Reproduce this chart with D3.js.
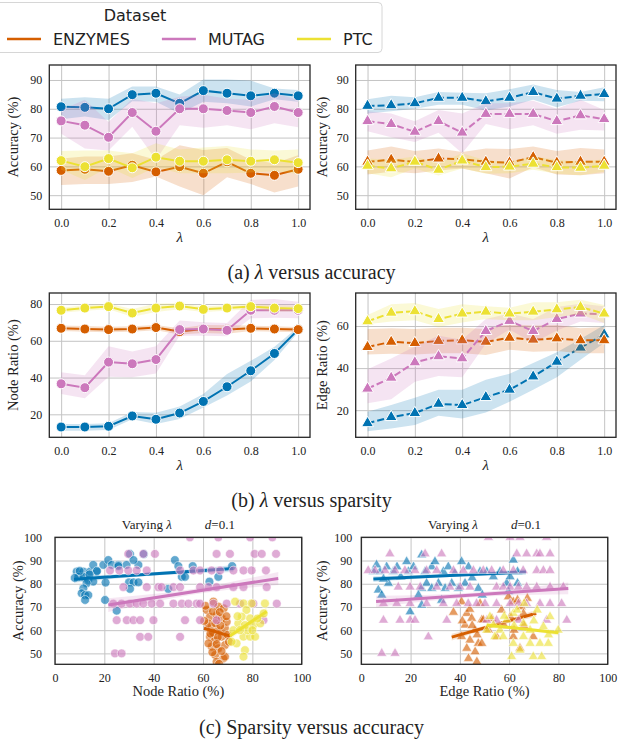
<!DOCTYPE html>
<html>
<head>
<meta charset="utf-8">
<script src="https://cdn.jsdelivr.net/npm/d3@7"></script>
<style>
  body { margin: 0; background: #fff; }
  svg { display: block; }
  .tick text { font-family: "Liberation Serif", "Times New Roman", serif; font-size: 12px; fill: #222; }
  .grid line { stroke: #c4c4c4; stroke-width: 1; }
  .frame { fill: none; stroke: #262626; stroke-width: 1.3; }
  .label { font-family: "Liberation Serif", "Times New Roman", serif; fill: #222; }
  .legend text { font-family: "DejaVu Sans", sans-serif; font-size: 16px; fill: #222; }
</style>
</head>
<body>
<div id="chart"></div>
<script>
// ---- data ----
const lambdas = [0, 0.1, 0.2, 0.3, 0.4, 0.5, 0.6, 0.7, 0.8, 0.9, 1.0];
const lambdaTicks = [0, 0.2, 0.4, 0.6, 0.8, 1.0];
const seriesKeys = ["s0", "ENZYMES", "MUTAG", "PTC"]; // s0 (blue) has no visible legend entry
const legendKeys = ["ENZYMES", "MUTAG", "PTC"];
const colors = { s0: "#0173b2", ENZYMES: "#d55e00", MUTAG: "#cc78bc", PTC: "#ece133" };

// (a) accuracy vs lambda, node sparsity (left)
const accNodeMean = {
  s0: [80.7, 80.5, 80.0, 84.9, 85.4, 81.9, 86.3, 85.4, 84.5, 85.4, 84.5],
  ENZYMES: [58.6, 59.0, 58.3, 60.4, 58.1, 59.9, 57.6, 61.6, 57.6, 56.9, 59.0],
  MUTAG: [75.8, 74.3, 70.1, 78.7, 72.2, 80.0, 80.0, 79.4, 78.7, 80.8, 78.7],
  PTC: [62.0, 59.9, 62.7, 59.5, 63.2, 61.8, 61.8, 62.3, 61.8, 62.3, 61.3],
};
const accNodeHigh = {
  s0: [83.5, 84.0, 83.5, 87.7, 87.7, 85.0, 90.2, 90.2, 89.8, 87.0, 86.5],
  ENZYMES: [62.7, 63.4, 63.4, 64.6, 62.3, 67.3, 65.7, 66.4, 62.3, 61.1, 63.9],
  MUTAG: [79.6, 83.1, 75.4, 83.5, 81.9, 84.2, 84.9, 83.5, 83.1, 85.4, 83.1],
  PTC: [65.3, 65.5, 65.5, 64.6, 68.0, 65.9, 66.6, 67.1, 65.9, 65.5, 65.9],
};
const accNodeLow = {
  s0: [76.4, 77.3, 76.1, 82.6, 82.4, 78.4, 82.4, 81.9, 80.8, 83.3, 82.4],
  ENZYMES: [53.5, 53.9, 53.9, 54.6, 56.5, 53.0, 50.0, 56.2, 53.9, 50.9, 53.0],
  MUTAG: [71.3, 66.2, 65.5, 73.8, 62.3, 74.3, 73.4, 74.3, 72.9, 75.0, 73.6],
  PTC: [58.8, 55.3, 59.7, 56.0, 59.7, 57.6, 57.6, 57.6, 57.9, 58.3, 57.4],
};

// (a) accuracy vs lambda, edge sparsity (right)
const accEdgeMean = {
  s0: [81.0, 81.2, 81.9, 83.8, 83.8, 82.6, 83.8, 85.8, 83.5, 84.5, 85.1],
  ENZYMES: [61.6, 62.3, 61.6, 62.7, 62.5, 61.6, 61.3, 63.2, 61.3, 61.6, 61.6],
  MUTAG: [75.7, 74.7, 72.0, 75.7, 71.7, 78.2, 78.2, 78.2, 75.7, 77.7, 76.4],
  PTC: [60.2, 59.3, 61.6, 58.8, 62.0, 59.7, 59.9, 60.9, 59.7, 59.5, 60.2],
};
const accEdgeHigh = {
  s0: [83.3, 84.5, 84.0, 85.8, 85.6, 85.4, 86.8, 88.4, 86.5, 85.8, 87.5],
  ENZYMES: [65.5, 66.9, 65.3, 66.2, 65.0, 66.2, 66.0, 66.9, 65.3, 66.4, 65.9],
  MUTAG: [79.1, 78.4, 75.7, 79.6, 78.4, 81.9, 81.9, 82.8, 80.0, 83.1, 79.6],
  PTC: [62.7, 62.3, 63.4, 61.1, 64.6, 62.0, 61.6, 63.4, 62.3, 61.6, 62.5],
};
const accEdgeLow = {
  s0: [78.4, 79.1, 80.0, 81.4, 81.4, 79.4, 80.8, 83.1, 80.5, 82.8, 82.6],
  ENZYMES: [57.2, 58.1, 57.6, 58.6, 59.3, 57.6, 55.8, 59.7, 57.2, 56.9, 57.6],
  MUTAG: [72.2, 70.1, 68.5, 71.7, 64.6, 74.7, 72.9, 74.3, 71.3, 72.7, 72.5],
  PTC: [57.6, 56.2, 59.3, 56.8, 59.3, 57.4, 57.6, 58.8, 57.4, 56.9, 58.1],
};

// (b) node ratio vs lambda
const nodeRatioMean = {
  s0: [13.1, 13.1, 13.5, 19.1, 17.3, 20.7, 27.0, 35.0, 43.7, 53.1, 66.1],
  ENZYMES: [66.8, 66.4, 66.1, 66.4, 67.2, 65.0, 66.4, 66.1, 66.8, 66.4, 66.1],
  MUTAG: [36.6, 34.5, 48.4, 47.5, 49.8, 66.1, 66.4, 65.7, 76.6, 76.6, 76.6],
  PTC: [76.6, 77.8, 78.6, 75.1, 77.8, 78.9, 77.1, 77.8, 78.6, 77.8, 77.5],
};
const nodeRatioHigh = {
  s0: [14.8, 14.8, 15.2, 21.3, 20.9, 24.2, 31.0, 41.9, 49.1, 56.7, 67.5],
  ENZYMES: [68.3, 68.0, 67.6, 67.9, 68.6, 66.8, 68.6, 68.5, 68.3, 67.9, 67.5],
  MUTAG: [42.9, 41.2, 57.0, 54.2, 57.0, 71.1, 70.1, 69.7, 82.3, 82.7, 81.3],
  PTC: [78.0, 79.3, 80.1, 77.3, 80.2, 80.6, 78.6, 79.3, 80.1, 79.5, 79.0],
};
const nodeRatioLow = {
  s0: [11.1, 11.1, 11.5, 17.3, 14.8, 17.4, 23.7, 30.3, 37.9, 49.5, 64.6],
  ENZYMES: [65.3, 64.9, 64.6, 64.9, 65.7, 63.4, 64.2, 63.8, 65.3, 64.9, 64.7],
  MUTAG: [31.0, 28.7, 40.4, 40.1, 42.2, 62.8, 62.8, 62.5, 72.2, 72.6, 72.2],
  PTC: [75.2, 76.3, 77.1, 73.1, 75.6, 77.2, 75.6, 76.3, 77.1, 76.1, 76.0],
};

// (b) edge ratio vs lambda
const edgeRatioMean = {
  s0: [13.8, 16.7, 18.6, 23.0, 22.4, 26.2, 29.7, 36.0, 43.0, 49.7, 56.0],
  ENZYMES: [50.0, 52.5, 51.9, 52.9, 53.2, 52.5, 54.4, 53.5, 54.1, 53.2, 53.2],
  MUTAG: [30.2, 35.4, 42.7, 45.6, 44.6, 57.6, 62.4, 57.6, 63.3, 65.9, 65.6],
  PTC: [62.2, 66.3, 67.0, 63.3, 65.9, 66.8, 65.9, 66.8, 67.9, 69.0, 65.9],
};
const edgeRatioHigh = {
  s0: [19.2, 22.4, 25.9, 29.7, 29.7, 34.4, 37.3, 42.4, 47.5, 53.8, 60.5],
  ENZYMES: [58.6, 58.9, 58.6, 59.2, 59.2, 58.6, 60.8, 60.2, 60.5, 58.9, 59.5],
  MUTAG: [39.5, 44.6, 50.3, 55.4, 53.5, 63.3, 65.9, 63.3, 69.0, 70.6, 69.4],
  PTC: [65.2, 70.3, 71.0, 68.1, 70.3, 69.4, 68.7, 71.3, 71.3, 72.5, 70.0],
};
const edgeRatioLow = {
  s0: [10.0, 11.3, 12.9, 17.3, 16.0, 18.9, 24.0, 29.7, 35.7, 44.0, 51.9],
  ENZYMES: [46.5, 46.8, 46.5, 47.1, 47.1, 46.2, 48.7, 47.8, 48.1, 47.1, 47.1],
  MUTAG: [23.3, 25.2, 33.5, 36.3, 35.7, 51.6, 58.3, 51.9, 57.9, 62.1, 61.4],
  PTC: [60.8, 62.1, 62.7, 59.5, 61.7, 63.3, 62.7, 62.7, 64.3, 65.6, 61.4],
};

// (c) scatter: [ratio %, accuracy %]
const nodeScatter = {
  s0: [[8.8,85.2],[11.5,85.2],[14.2,85.2],[16.9,85.2],[9.5,83],[11.5,83],[13.5,81.6],[15.5,80.9],[12.8,80.2],[11.5,78],[10.8,75.9],[12.2,75.1],[13.5,75.1],[12.2,73],[15.5,88.1],[19.6,88.1],[21.6,90.2],[23,88.1],[25.7,88.1],[29,88.1],[30.4,92.8],[33.8,88.1],[30,80.6],[31.8,80.6],[33.8,80.6],[20.3,73],[25,68.4],[25.7,87.6],[31.8,90.2],[30.4,77.8],[36,92.8],[48.6,90.2],[50,87.6],[51.4,83],[52.7,83],[55.8,87.6],[62.6,80.9],[66.2,83],[71.8,87.6],[45.9,77.8],[20.5,80.5],[17,85.5],[8,82.5],[10,85.5],[14,84]],
  ENZYMES: [[64.2,72.3],[61.5,68.7],[66.2,70.1],[68.4,69.4],[62.8,65.8],[65.5,66.5],[67.6,65.1],[63.5,61.5],[66.2,60],[68.9,60.8],[62.8,57.2],[64.9,55.7],[67.6,57.2],[63.5,52.9],[66.2,52.2],[68.9,53.6],[64.9,49.3],[68.2,47.8],[65.5,46.4],[68.9,48.6],[62.2,62.9],[69.6,63.6],[62.2,54.3],[65,63],[67,62],[64,59],[66,57],[63,58.5],[65.5,54],[67.5,51],[64,68],[66.8,67.8],[69.5,66],[61,70.5],[70,58],[63.8,50.5],[66.5,45.5],[70.5,55],[60.5,64]],
  MUTAG: [[54.7,100],[66.2,100],[79.1,100],[88.1,100],
    [29.7,92.86],[35.8,92.86],[40.5,92.86],[65.5,92.86],[70.9,92.86],[80.9,92.86],[83.8,92.86],[89.6,92.86],
    [22.3,85.71],[26.1,85.71],[29.7,85.71],[33.1,85.71],[37.2,85.71],[50.7,85.71],[56.1,85.71],[58.8,85.71],[63.5,85.71],[66.9,85.71],[72.3,85.71],[76.4,85.71],[79.7,85.71],[85.5,85.71],
    [27.7,78.57],[37.2,78.57],[41.9,78.57],[43.2,78.57],[48,78.57],[50.7,78.57],[58.8,78.57],[62.2,78.57],[65.5,78.57],[72.3,78.57],[76.4,78.57],[85.8,78.57],
    [23.6,71.43],[27,71.43],[30.4,71.43],[33.1,71.43],[35.8,71.43],[39.2,71.43],[42.6,71.43],[48,71.43],[51.4,71.43],[54.1,71.43],[57.4,71.43],[58.8,71.43],[64.2,71.43],[69.6,71.43],[75,71.43],[80.4,71.43],[89.9,71.43],
    [25,64.29],[29.1,64.29],[31.8,64.29],[34.5,64.29],[39.9,64.29],[52.7,64.29],[58.8,64.29],[65.5,64.29],[84.5,64.29],
    [34.5,57.14],[37.8,57.14],[50.7,57.14],
    [24.3,50],[27,50]],
  PTC: [[73,72.3],[76.4,71.5],[79.7,71.5],[77.6,68.7],[75.7,65.8],[79.1,65.1],[74.3,62.9],[77,62.2],[80.4,62.2],[72.3,60],[76.4,57.2],[79.1,57.2],[81.1,57.2],[73.6,54.3],[77,51.4],[76.4,48.6],[71.6,55],[83.2,62.9],[84.6,67.2],[85.1,71.5],[78,60],[75,60],[80,60],[74,66],[82,65]],
};
const edgeScatter = {
  s0: [[4.9,85.2],[7.6,85.2],[10.3,87.3],[13,85.2],[14.5,87.3],[18.4,89.5],[19.1,85.2],[21.2,87.3],[24.5,92.4],[25.9,85.2],[28.6,87.3],[29.9,89.5],[33.3,85.2],[35.3,87.3],[40.7,89.5],[43.5,87.3],[6.9,77.3],[8.3,75.1],[11,80.2],[24.5,78],[26.5,80.2],[28.6,78],[31.3,80.2],[34,78],[36.7,80.2],[39.4,78],[42.1,80.2],[32.6,72.9],[19.8,67.9],[24.5,70.8],[47.5,78],[6.2,88.1],[23.2,75.1],[48.2,85.2],[50.9,85.2],[53.6,83],[56.3,85.2],[59,80.2],[61.7,90.2],[63.4,85.2],[60.4,83],[59.7,76.6],[63.4,80.2],[49.1,75.1],[9,82],[16,83],[38,84.5],[45,82.5]],
  ENZYMES: [[37.4,67.7],[40.7,72.2],[42.8,67.2],[44.8,65.1],[42.1,62.2],[46.2,60],[40.7,57.2],[44.1,55.7],[47.5,54.3],[42.8,52.2],[46.2,50.7],[43.5,47.8],[46.9,46.4],[48.9,64.4],[49.5,64.4],[51.6,60],[56.9,68.7],[59.7,74.4],[61.7,72.2],[63.4,73],[64.9,70.1],[67.4,73.7],[60.5,65.8],[65.8,67.2],[61.7,57.2],[64.4,52.2],[69.8,57.2],[48.9,54.3],[48.2,71.5],[45,62],[41,64],[44,69],[47,58],[58,62],[62,60],[66,62],[55,57],[53,65]],
  MUTAG: [[51.6,100],[60.4,100],[64.4,100],[75.2,100],
    [11.6,92.86],[25.9,92.86],[32.6,92.86],[63.1,92.86],[67.1,92.86],[71.2,92.86],[72.5,92.86],[76.6,92.86],
    [2.8,85.71],[5.6,85.71],[9.6,85.71],[13.7,85.71],[17.7,85.71],[21.8,85.71],[26.5,85.71],[30.6,85.71],[37.4,85.71],[41.4,85.71],[45.5,85.71],[49.5,85.71],[52.9,85.71],[57.6,85.71],[61.7,85.71],[65.7,85.71],[71.2,85.71],[73.9,85.71],[76.6,85.71],
    [15,78.57],[19.8,78.57],[23.9,78.57],[30.6,78.57],[36,78.57],[40.1,78.57],[44.1,78.57],[54.9,78.57],[57.6,78.57],[60.4,78.57],[63.8,78.57],[67.1,78.57],[71.2,78.57],[76.6,78.57],[82,78.57],
    [9,71.43],[14.4,71.43],[19.8,71.43],[26.5,71.43],[33.3,71.43],[38.7,71.43],[43.4,71.43],[46.8,71.43],[50.2,71.43],[54.9,71.43],[60.4,71.43],[63.8,71.43],[67.1,71.43],[72.5,71.43],[76.6,71.43],[81.3,71.43],
    [9,64.29],[15.7,64.29],[19.8,64.29],[21.8,64.29],[34.7,64.29],[50.9,64.29],[54.9,64.29],[63.8,64.29],[75.2,64.29],[83.4,64.29],
    [27.2,57.14],
    [8.3,50],[13.7,50]],
  PTC: [[53.6,62.2],[56.3,60],[59,64.4],[61.7,67.2],[63.2,68.7],[65.8,62.9],[68.5,60],[71.4,68.7],[73.9,61.5],[76.6,65.8],[79.9,60],[54.2,57.2],[57.6,57.2],[61.7,54.3],[65.8,57.2],[68.5,54.3],[72.5,54.3],[75.9,54.3],[61,48.6],[69.8,48.6],[73.2,48.6],[64.4,51.4],[50.9,60],[66.1,71.5],[52.2,65.8],[58,66],[62,62],[70,64],[76,58]],
};

// regression lines: [[x0, y0], [x1, y1]] and band half-widths [start, mid, end]
const nodeFit = {
  s0: [[7.7, 81.9], [72.3, 86.6]],
  ENZYMES: [[60.4, 60.8], [70.9, 57.5]],
  MUTAG: [[21.6, 70.8], [90.5, 82.3]],
  PTC: [[70.9, 57.5], [85.8, 68.0]],
};
const nodeFitBand = { s0: [1.5, 0.7, 1.5], ENZYMES: [1.5, 1.0, 1.5], MUTAG: [3.0, 1.2, 2.8], PTC: [1.8, 1.0, 2.0] };
const edgeFit = {
  s0: [[4.9, 82.0], [66.8, 85.1]],
  ENZYMES: [[36.7, 57.0], [71.0, 67.3]],
  MUTAG: [[6.0, 72.3], [84.0, 78.0]],
  PTC: [[50.9, 62.2], [80.0, 58.9]],
};
const edgeFitBand = { s0: [1.2, 0.6, 1.2], ENZYMES: [1.5, 0.8, 1.5], MUTAG: [2.5, 1.0, 2.5], PTC: [1.2, 0.6, 1.2] };

// ---- drawing ----
const width = 623, height = 740;
const svg = d3.select("#chart").append("svg").attr("width", width).attr("height", height);
const defs = svg.append("defs");
let clipId = 0;

function frameAndGrid(g, box, x, y, xTicks, yTicks) {
  g.append("g")
    .attr("class", "grid")
    .attr("transform", `translate(0,${box.bottom})`)
    .call(d3.axisBottom(x).tickValues(xTicks).tickSize(-(box.bottom - box.top)).tickFormat(""))
    .call((g) => g.select(".domain").remove());
  g.append("g")
    .attr("class", "grid")
    .attr("transform", `translate(${box.left},0)`)
    .call(d3.axisLeft(y).tickValues(yTicks).tickSize(-(box.right - box.left)).tickFormat(""))
    .call((g) => g.select(".domain").remove());
}

function axes(g, box, x, y, xTicks, yTicks, xFormat, yPad) {
  g.append("g")
    .attr("transform", `translate(0,${box.bottom})`)
    .call(d3.axisBottom(x).tickValues(xTicks).tickFormat(xFormat).tickSize(0).tickPadding(9))
    .call((g) => g.select(".domain").remove());
  g.append("g")
    .attr("transform", `translate(${box.left},0)`)
    .call(d3.axisLeft(y).tickValues(yTicks).tickFormat(d3.format("d")).tickSize(0).tickPadding(yPad))
    .call((g) => g.select(".domain").remove());
  g.append("rect")
    .attr("class", "frame")
    .attr("x", box.left)
    .attr("y", box.top)
    .attr("width", box.right - box.left)
    .attr("height", box.bottom - box.top);
}

function clipFor(box) {
  const id = `clip-${clipId++}`;
  defs.append("clipPath").attr("id", id)
    .append("rect")
    .attr("x", box.left).attr("y", box.top)
    .attr("width", box.right - box.left).attr("height", box.bottom - box.top);
  return `url(#${id})`;
}

function yLabel(text, cx, box) {
  svg.append("text")
    .attr("class", "label")
    .attr("transform", `translate(${cx},${(box.top + box.bottom) / 2}) rotate(-90)`)
    .attr("text-anchor", "middle")
    .attr("dominant-baseline", "central")
    .style("font-size", "14.5px")
    .text(text);
}

function lambdaLabel(box) {
  svg.append("text")
    .attr("class", "label")
    .attr("x", (box.left + box.right) / 2)
    .attr("y", box.bottom + 33)
    .attr("text-anchor", "middle")
    .style("font-size", "15px")
    .style("font-style", "italic")
    .text("λ");
}

function linePanel({ box, yDomain, yTicks, mean, low, high, marker, dashed, label, labelX }) {
  const x = d3.scaleLinear().domain([-0.05, 1.05]).range([box.left, box.right]);
  const y = d3.scaleLinear().domain(yDomain).range([box.bottom, box.top]);
  const g = svg.append("g");
  frameAndGrid(g, box, x, y, lambdaTicks, yTicks);

  const plot = g.append("g").attr("clip-path", clipFor(box));
  const symbol = d3.symbol().type(d3.symbolTriangle).size(62);

  seriesKeys.forEach((key) => {
    const area = d3.area()
      .x((_, i) => x(lambdas[i]))
      .y0((_, i) => y(low[key][i]))
      .y1((_, i) => y(high[key][i]));
    const line = d3.line().x((_, i) => x(lambdas[i])).y((d) => y(d));

    plot.append("path")
      .attr("d", area(mean[key]))
      .attr("fill", colors[key])
      .attr("fill-opacity", 0.2);
    plot.append("path")
      .attr("d", line(mean[key]))
      .attr("fill", "none")
      .attr("stroke", colors[key])
      .attr("stroke-width", 2)
      .attr("stroke-dasharray", dashed ? "7,3" : null);

    const marks = plot.selectAll(null).data(mean[key]);
    if (marker === "circle") {
      marks.join("circle")
        .attr("cx", (_, i) => x(lambdas[i]))
        .attr("cy", (d) => y(d))
        .attr("r", 5)
        .attr("fill", colors[key])
        .attr("stroke", "#fff")
        .attr("stroke-width", 1);
    } else {
      marks.join("path")
        .attr("transform", (d, i) => `translate(${x(lambdas[i])},${y(d)})`)
        .attr("d", symbol)
        .attr("fill", colors[key])
        .attr("stroke", "#fff")
        .attr("stroke-width", 1);
    }
  });

  axes(g, box, x, y, lambdaTicks, yTicks, d3.format(".1f"), 7);
  yLabel(label, labelX, box);
  lambdaLabel(box);
}

function scatterPanel({ box, points, fit, fitBand, marker, xText, labelX, yPad }) {
  const x = d3.scaleLinear().domain([0, 100]).range([box.left, box.right]);
  const y = d3.scaleLinear().domain([45.3, 100]).range([box.bottom, box.top]);
  const xTicks = [0, 20, 40, 60, 80, 100];
  const yTicks = [50, 60, 70, 80, 90, 100];
  const g = svg.append("g");
  frameAndGrid(g, box, x, y, xTicks, yTicks);

  const plot = g.append("g").attr("clip-path", clipFor(box));
  const symbol = d3.symbol().type(d3.symbolTriangle).size(44);

  seriesKeys.forEach((key) => {
    const marks = plot.selectAll(null).data(points[key]);
    if (marker === "circle") {
      marks.join("circle")
        .attr("cx", (d) => x(d[0]))
        .attr("cy", (d) => y(d[1]))
        .attr("r", 4.4)
        .attr("fill", colors[key])
        .attr("fill-opacity", 0.62)
        .attr("stroke", "#fff")
        .attr("stroke-opacity", 0.7)
        .attr("stroke-width", 0.8);
    } else {
      marks.join("path")
        .attr("transform", (d) => `translate(${x(d[0])},${y(d[1])})`)
        .attr("d", symbol)
        .attr("fill", colors[key])
        .attr("fill-opacity", 0.62)
        .attr("stroke", "#fff")
        .attr("stroke-opacity", 0.7)
        .attr("stroke-width", 0.8);
    }

    const [p0, p1] = fit[key];
    const [h0, hm, h1] = fitBand[key];
    const pm = [(p0[0] + p1[0]) / 2, (p0[1] + p1[1]) / 2];
    const band = [[p0, h0], [pm, hm], [p1, h1]];
    plot.append("path")
      .attr("d", d3.area()
        .curve(d3.curveMonotoneX)
        .x((d) => x(d[0][0]))
        .y0((d) => y(d[0][1] - d[1]))
        .y1((d) => y(d[0][1] + d[1]))(band))
      .attr("fill", colors[key])
      .attr("fill-opacity", 0.18);
    plot.append("path")
      .attr("d", d3.line().x((d) => x(d[0])).y((d) => y(d[1]))(fit[key]))
      .attr("stroke", colors[key])
      .attr("stroke-width", 3)
      .attr("fill", "none");
  });

  axes(g, box, x, y, xTicks, yTicks, d3.format("d"), yPad);
  yLabel("Accuracy (%)", labelX, box);

  svg.append("text")
    .attr("class", "label")
    .attr("x", (box.left + box.right) / 2)
    .attr("y", box.bottom + 32)
    .attr("text-anchor", "middle")
    .style("font-size", "14.5px")
    .text(xText);

  const title = svg.append("text")
    .attr("class", "label")
    .attr("x", (box.left + box.right) / 2)
    .attr("y", box.top - 8)
    .attr("text-anchor", "middle")
    .style("font-size", "13px");
  title.append("tspan").text("Varying ");
  title.append("tspan").style("font-style", "italic").text("λ");
  title.append("tspan").attr("dx", 33).style("font-style", "italic").text("d");
  title.append("tspan").text("=0.1");
}

function caption(parts, cy) {
  const t = svg.append("text")
    .attr("class", "label")
    .attr("x", width / 2)
    .attr("y", cy)
    .attr("text-anchor", "middle")
    .style("font-size", "20px");
  parts.forEach(([s, italic]) => t.append("tspan").style("font-style", italic ? "italic" : null).text(s));
}

function legend() {
  const g = svg.append("g").attr("class", "legend");
  const box = g.append("rect")
    .attr("x", -115).attr("y", 2.5)
    .attr("width", 497).attr("height", 50)
    .attr("rx", 4)
    .attr("fill", "#fff")
    .attr("stroke", "#d6d6d6");
  g.append("text").attr("x", 135).attr("y", 21).attr("text-anchor", "middle").text("Dataset");
  let cx = 7;
  legendKeys.forEach((key) => {
    g.append("line")
      .attr("x1", cx).attr("x2", cx + 34)
      .attr("y1", 39).attr("y2", 39)
      .attr("stroke", colors[key])
      .attr("stroke-width", 2.3);
    const t = g.append("text").attr("x", cx + 46).attr("y", 45).text(key);
    cx += 46 + t.node().getComputedTextLength() + 32;
  });
}

const boxAL = { left: 49.3, right: 310, top: 65, bottom: 209.3 };
const boxAR = { left: 355.7, right: 616, top: 65, bottom: 209.3 };
const boxBL = { left: 49.3, right: 310, top: 293, bottom: 437.3 };
const boxBR = { left: 355.7, right: 616, top: 293, bottom: 437.3 };
const boxCL = { left: 55, right: 301.7, top: 537.3, bottom: 664.3 };
const boxCR = { left: 361.3, right: 607.7, top: 537.3, bottom: 664.3 };

legend();

linePanel({ box: boxAL, yDomain: [45.1, 95.2], yTicks: [50, 60, 70, 80, 90],
  mean: accNodeMean, low: accNodeLow, high: accNodeHigh, marker: "circle", dashed: false,
  label: "Accuracy (%)", labelX: 12.5 });
linePanel({ box: boxAR, yDomain: [45.1, 95.2], yTicks: [50, 60, 70, 80, 90],
  mean: accEdgeMean, low: accEdgeLow, high: accEdgeHigh, marker: "triangle", dashed: true,
  label: "Accuracy (%)", labelX: 322 });
caption([["(a) "], ["λ", true], [" versus accuracy"]], 279);

linePanel({ box: boxBL, yDomain: [7.5, 86], yTicks: [20, 40, 60, 80],
  mean: nodeRatioMean, low: nodeRatioLow, high: nodeRatioHigh, marker: "circle", dashed: false,
  label: "Node Ratio (%)", labelX: 12.5 });
linePanel({ box: boxBR, yDomain: [7.1, 75.7], yTicks: [20, 40, 60],
  mean: edgeRatioMean, low: edgeRatioLow, high: edgeRatioHigh, marker: "triangle", dashed: true,
  label: "Edge Ratio (%)", labelX: 322 });
caption([["(b) "], ["λ", true], [" versus sparsity"]], 507);

scatterPanel({ box: boxCL, points: nodeScatter, fit: nodeFit, fitBand: nodeFitBand,
  marker: "circle", xText: "Node Ratio (%)", labelX: 17.5, yPad: 13 });
scatterPanel({ box: boxCR, points: edgeScatter, fit: edgeFit, fitBand: edgeFitBand,
  marker: "triangle", xText: "Edge Ratio (%)", labelX: 322, yPad: 9 });
caption([["(c) Sparsity versus accuracy"]], 734);
</script>
</body>
</html>
